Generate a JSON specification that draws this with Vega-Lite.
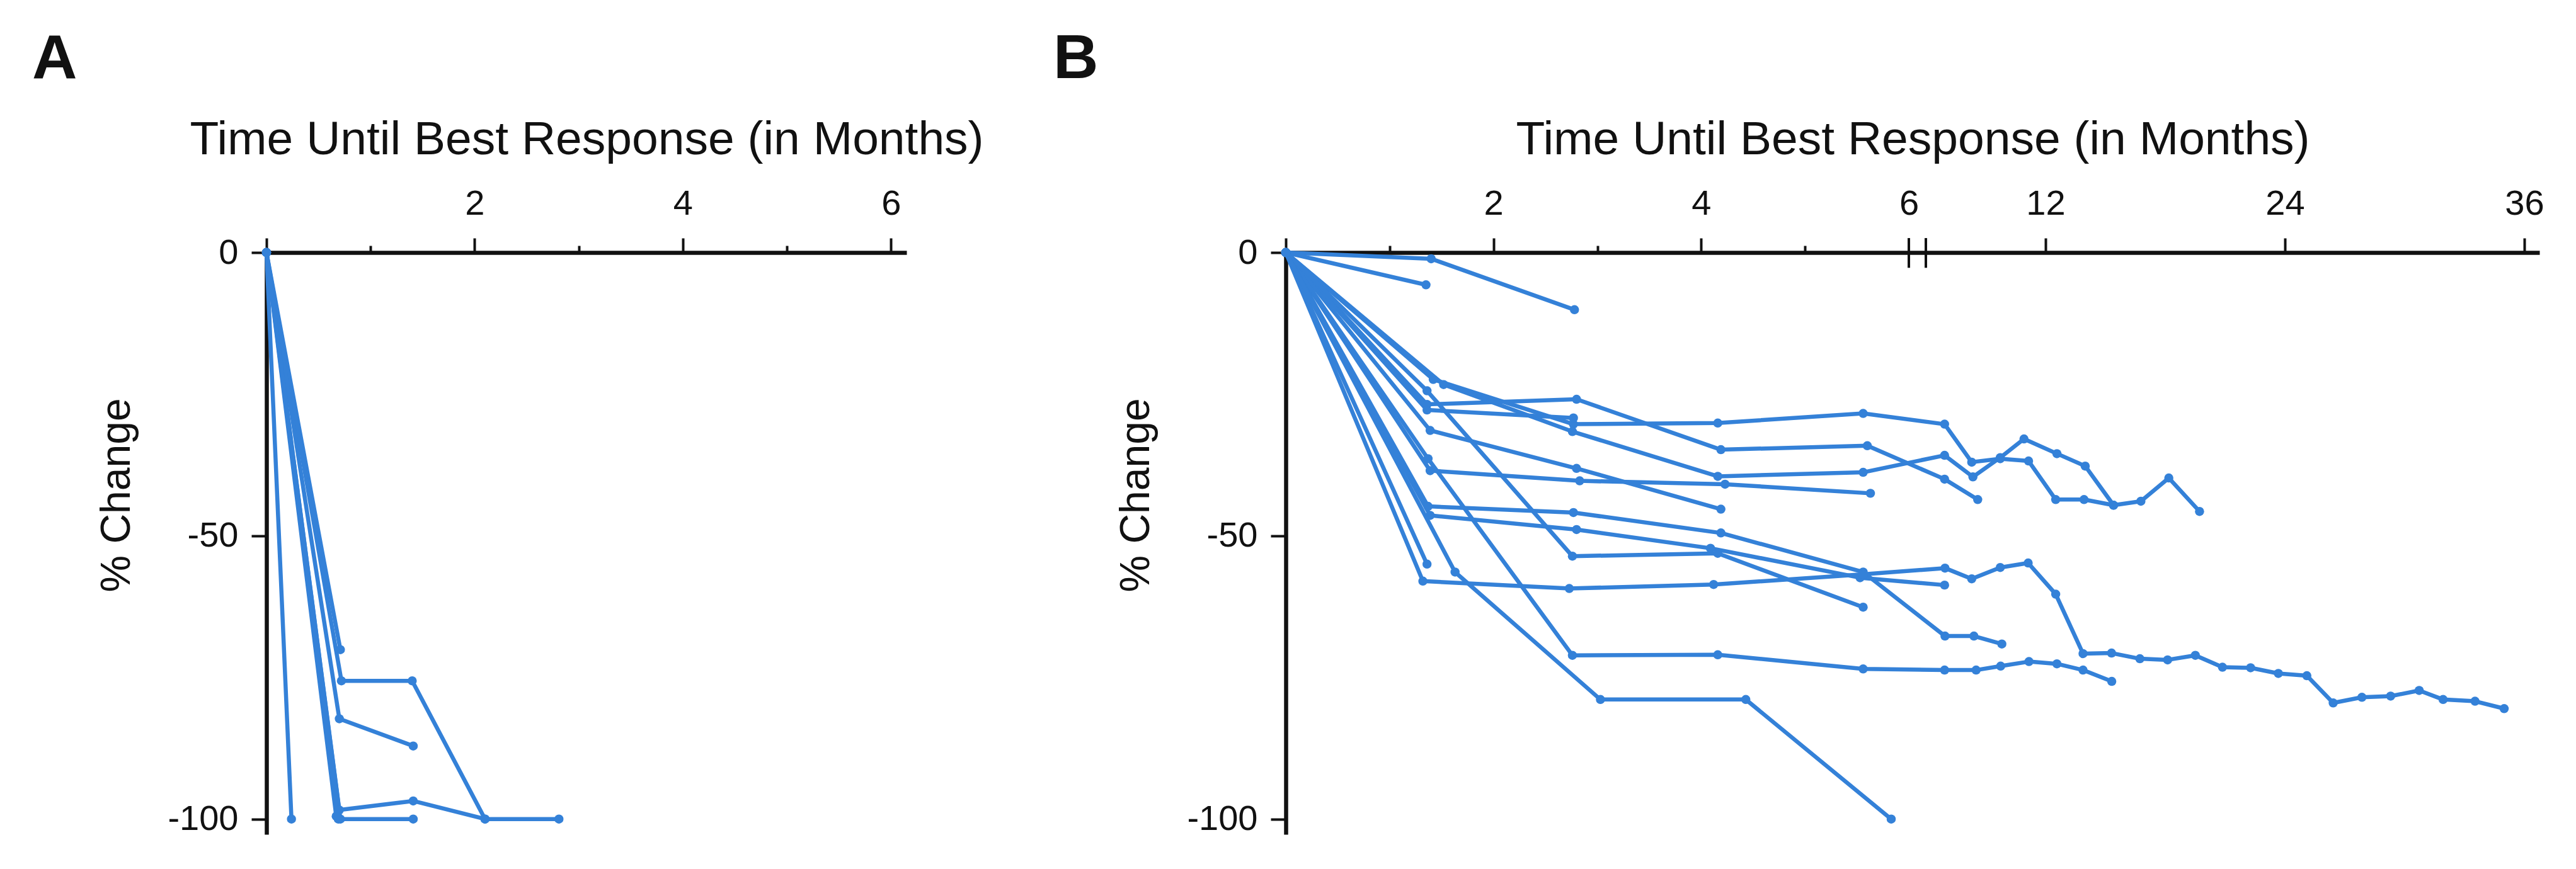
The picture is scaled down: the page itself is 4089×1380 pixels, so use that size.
{
  "$schema": "https://vega.github.io/schema/vega-lite/v6.json",
  "background": "white",
  "padding": {"left": 51, "top": 45, "right": 51, "bottom": 58},
  "autosize": {"type": "pad"},
  "spacing": 602,
  "bounds": "flush",
  "datasets": {
    "A": [
      {"id": "A1", "month": 0, "change": 0}, {"id": "A1", "month": 0.24, "change": -100},
      {"id": "A2", "month": 0, "change": 0}, {"id": "A2", "month": 0.71, "change": -70.1},
      {"id": "A3", "month": 0, "change": 0}, {"id": "A3", "month": 0.72, "change": -75.6}, {"id": "A3", "month": 1.4, "change": -75.6}, {"id": "A3", "month": 2.1, "change": -100}, {"id": "A3", "month": 2.81, "change": -100},
      {"id": "A4", "month": 0, "change": 0}, {"id": "A4", "month": 0.7, "change": -82.3}, {"id": "A4", "month": 1.41, "change": -87.1},
      {"id": "A5", "month": 0, "change": 0}, {"id": "A5", "month": 0.7, "change": -98.4}, {"id": "A5", "month": 1.41, "change": -96.8}, {"id": "A5", "month": 2.1, "change": -100},
      {"id": "A6", "month": 0, "change": 0}, {"id": "A6", "month": 0.71, "change": -100}, {"id": "A6", "month": 1.41, "change": -100},
      {"id": "A7", "month": 0, "change": 0}, {"id": "A7", "month": 0.67, "change": -99.5},
      {"id": "A8", "month": 0, "change": 0}, {"id": "A8", "month": 0.69, "change": -100}
    ],
    "B": [
      {"id": "B1", "month": 0, "change": 0}, {"id": "B1", "month": 1.4, "change": -1.1}, {"id": "B1", "month": 2.78, "change": -10.1},
      {"id": "B2", "month": 0, "change": 0}, {"id": "B2", "month": 1.35, "change": -5.7},
      {"id": "B3", "month": 0, "change": 0}, {"id": "B3", "month": 1.42, "change": -22.4}, {"id": "B3", "month": 2.77, "change": -30.3}, {"id": "B3", "month": 4.16, "change": -30.1}, {"id": "B3", "month": 5.56, "change": -28.4}, {"id": "B3", "month": 6.94, "change": -30.3}, {"id": "B3", "month": 8.3, "change": -37.0}, {"id": "B3", "month": 9.73, "change": -36.4}, {"id": "B3", "month": 11.15, "change": -36.8}, {"id": "B3", "month": 12.51, "change": -43.6}, {"id": "B3", "month": 13.93, "change": -43.6}, {"id": "B3", "month": 15.41, "change": -44.6},
      {"id": "B4", "month": 0, "change": 0}, {"id": "B4", "month": 1.52, "change": -23.3}, {"id": "B4", "month": 2.76, "change": -31.6}, {"id": "B4", "month": 4.16, "change": -39.5}, {"id": "B4", "month": 5.56, "change": -38.8}, {"id": "B4", "month": 6.94, "change": -35.8}, {"id": "B4", "month": 8.36, "change": -39.6}, {"id": "B4", "month": 9.73, "change": -36.2}, {"id": "B4", "month": 10.92, "change": -32.9}, {"id": "B4", "month": 12.57, "change": -35.5}, {"id": "B4", "month": 13.99, "change": -37.7}, {"id": "B4", "month": 15.41, "change": -44.6}, {"id": "B4", "month": 16.78, "change": -43.9}, {"id": "B4", "month": 18.18, "change": -39.8}, {"id": "B4", "month": 19.72, "change": -45.7},
      {"id": "B5", "month": 0, "change": 0}, {"id": "B5", "month": 1.36, "change": -26.8}, {"id": "B5", "month": 2.8, "change": -25.9}, {"id": "B5", "month": 4.19, "change": -34.8}, {"id": "B5", "month": 5.6, "change": -34.1}, {"id": "B5", "month": 6.94, "change": -40.0}, {"id": "B5", "month": 8.6, "change": -43.6},
      {"id": "B6", "month": 0, "change": 0}, {"id": "B6", "month": 1.36, "change": -27.8}, {"id": "B6", "month": 2.77, "change": -29.2},
      {"id": "B7", "month": 0, "change": 0}, {"id": "B7", "month": 1.39, "change": -31.4}, {"id": "B7", "month": 2.8, "change": -38.1}, {"id": "B7", "month": 4.19, "change": -45.3},
      {"id": "B8", "month": 0, "change": 0}, {"id": "B8", "month": 1.39, "change": -38.5}, {"id": "B8", "month": 2.83, "change": -40.3}, {"id": "B8", "month": 4.23, "change": -40.9}, {"id": "B8", "month": 5.63, "change": -42.5},
      {"id": "B9", "month": 0, "change": 0}, {"id": "B9", "month": 1.37, "change": -36.4}, {"id": "B9", "month": 2.76, "change": -71.1}, {"id": "B9", "month": 4.16, "change": -71.0}, {"id": "B9", "month": 5.56, "change": -73.5}, {"id": "B9", "month": 6.94, "change": -73.7}, {"id": "B9", "month": 8.52, "change": -73.7}, {"id": "B9", "month": 9.75, "change": -73.0}, {"id": "B9", "month": 11.17, "change": -72.2}, {"id": "B9", "month": 12.57, "change": -72.6}, {"id": "B9", "month": 13.88, "change": -73.7}, {"id": "B9", "month": 15.32, "change": -75.7},
      {"id": "B10", "month": 0, "change": 0}, {"id": "B10", "month": 1.36, "change": -24.4}, {"id": "B10", "month": 2.76, "change": -53.6}, {"id": "B10", "month": 4.16, "change": -53.1}, {"id": "B10", "month": 5.56, "change": -62.6},
      {"id": "B11", "month": 0, "change": 0}, {"id": "B11", "month": 1.37, "change": -44.8}, {"id": "B11", "month": 2.77, "change": -45.9}, {"id": "B11", "month": 4.19, "change": -49.5}, {"id": "B11", "month": 5.56, "change": -56.4}, {"id": "B11", "month": 6.96, "change": -67.7}, {"id": "B11", "month": 8.41, "change": -67.7}, {"id": "B11", "month": 9.81, "change": -69.1},
      {"id": "B12", "month": 0, "change": 0}, {"id": "B12", "month": 1.39, "change": -46.4}, {"id": "B12", "month": 2.8, "change": -48.9}, {"id": "B12", "month": 4.09, "change": -52.2}, {"id": "B12", "month": 5.53, "change": -57.4}, {"id": "B12", "month": 6.94, "change": -58.7},
      {"id": "B13", "month": 0, "change": 0}, {"id": "B13", "month": 1.32, "change": -58.0}, {"id": "B13", "month": 2.73, "change": -59.3}, {"id": "B13", "month": 4.12, "change": -58.6}, {"id": "B13", "month": 5.56, "change": -56.8}, {"id": "B13", "month": 6.96, "change": -55.7}, {"id": "B13", "month": 8.3, "change": -57.6}, {"id": "B13", "month": 9.73, "change": -55.6}, {"id": "B13", "month": 11.13, "change": -54.8}, {"id": "B13", "month": 12.51, "change": -60.3}, {"id": "B13", "month": 13.88, "change": -70.8}, {"id": "B13", "month": 15.31, "change": -70.7}, {"id": "B13", "month": 16.73, "change": -71.7}, {"id": "B13", "month": 18.12, "change": -71.9}, {"id": "B13", "month": 19.51, "change": -71.1}, {"id": "B13", "month": 20.87, "change": -73.2}, {"id": "B13", "month": 22.28, "change": -73.3}, {"id": "B13", "month": 23.67, "change": -74.3}, {"id": "B13", "month": 25.1, "change": -74.7}, {"id": "B13", "month": 26.42, "change": -79.5}, {"id": "B13", "month": 27.86, "change": -78.5}, {"id": "B13", "month": 29.3, "change": -78.3}, {"id": "B13", "month": 30.73, "change": -77.3}, {"id": "B13", "month": 31.93, "change": -78.9}, {"id": "B13", "month": 33.53, "change": -79.2}, {"id": "B13", "month": 34.99, "change": -80.5},
      {"id": "B14", "month": 0, "change": 0}, {"id": "B14", "month": 1.36, "change": -55.0},
      {"id": "B15", "month": 0, "change": 0}, {"id": "B15", "month": 1.63, "change": -56.4}, {"id": "B15", "month": 3.03, "change": -78.9}, {"id": "B15", "month": 4.43, "change": -78.9}, {"id": "B15", "month": 5.83, "change": -100}
    ],
    "breaks": [{"month": 6}, {"month": 6.001}]
  },
  "hconcat": [
    {
      "width": 1016,
      "height": 924,
      "title": {"text": "A", "dx": -372},
      "data": {"name": "A"},
      "encoding": {
        "x": {
          "field": "month", "type": "quantitative",
          "scale": {"domain": [0, 6.15], "nice": false, "zero": false},
          "axis": {
            "orient": "top",
            "values": [0, 1, 2, 3, 4, 5, 6],
            "labelExpr": "indexof([2, 4, 6], datum.value) >= 0 ? datum.label : ''",
            "tickSize": {"condition": {"test": "indexof([1, 3, 5], datum.value) >= 0", "value": 11}, "value": 23},
            "labelPadding": 26,
            "labelOverlap": false,
            "labelFlush": false,
            "title": "Time Until Best Response (in Months)",
            "titlePadding": 35
          }
        },
        "y": {
          "field": "change", "type": "quantitative",
          "scale": {"domain": [-102.7, 0], "nice": false, "zero": false},
          "axis": {
            "orient": "left",
            "values": [0, -50, -100],
            "labelExpr": "replace(datum.label, '\u2212', '-')",
            "tickSize": 24,
            "labelPadding": 21,
            "title": "% Change",
            "titleFontSize": 66,
            "titleY": 385,
            "titlePadding": 46
          }
        }
      },
      "layer": [
        {"mark": {"type": "line", "color": "#3481d8", "strokeWidth": 6.5, "strokeJoin": "round", "strokeCap": "round"}, "encoding": {"detail": {"field": "id", "type": "nominal"}}},
        {"mark": {"type": "point", "filled": true, "color": "#3481d8", "size": 210, "opacity": 1}}
      ]
    },
    {
      "width": 1990,
      "height": 924,
      "title": {"text": "B", "dx": -369},
      "layer": [
        {
          "data": {"name": "B"},
          "mark": {"type": "line", "color": "#3481d8", "strokeWidth": 6.5, "strokeJoin": "round", "strokeCap": "round"},
          "encoding": {
            "x": {
              "field": "month", "type": "quantitative",
              "scale": {"domain": [0, 6, 6.001, 36.76], "range": [0, 989, 1016, 1990], "nice": false, "zero": false},
              "axis": {
                "orient": "top",
                "values": [0, 1, 2, 3, 4, 5, 6, 6.001, 12, 24, 36],
                "labelExpr": "indexof([2, 4, 6, 12, 24, 36], datum.value) >= 0 ? datum.label : ''",
                "tickSize": {"condition": {"test": "indexof([1, 3, 5], datum.value) >= 0", "value": 11}, "value": 23},
                "tickOpacity": {"condition": {"test": "datum.value == 6 || datum.value == 6.001", "value": 0}, "value": 1},
                "labelPadding": 26,
                "labelOverlap": false,
                "labelFlush": false,
                "title": "Time Until Best Response (in Months)",
                "titlePadding": 35
              }
            },
            "y": {
              "field": "change", "type": "quantitative",
              "scale": {"domain": [-102.7, 0], "nice": false, "zero": false},
              "axis": {
                "orient": "left",
                "values": [0, -50, -100],
                "labelExpr": "replace(datum.label, '\u2212', '-')",
                "tickSize": 24,
                "labelPadding": 21,
                "title": "% Change",
                "titleFontSize": 66,
                "titleY": 385,
                "titlePadding": 46
              }
            },
            "detail": {"field": "id", "type": "nominal"}
          }
        },
        {
          "data": {"name": "B"},
          "mark": {"type": "point", "filled": true, "color": "#3481d8", "size": 210, "opacity": 1},
          "encoding": {
            "x": {"field": "month", "type": "quantitative"},
            "y": {"field": "change", "type": "quantitative"}
          }
        },
        {
          "data": {"name": "breaks"},
          "mark": {"type": "rule", "color": "#111", "strokeWidth": 4},
          "encoding": {
            "x": {"field": "month", "type": "quantitative"},
            "y": {"datum": 2.55},
            "y2": {"datum": -2.7}
          }
        }
      ]
    }
  ],
  "config": {
    "view": {"stroke": null},
    "font": "Liberation Sans",
    "axis": {
      "grid": false,
      "domainColor": "#111",
      "domainWidth": 6.5,
      "tickColor": "#111",
      "tickWidth": 4,
      "labelFont": "Liberation Sans",
      "labelFontSize": 56,
      "labelColor": "#111",
      "titleFont": "Liberation Sans",
      "titleFontSize": 75,
      "titleFontWeight": "normal",
      "titleColor": "#111"
    },
    "title": {
      "font": "Liberation Sans",
      "fontSize": 99,
      "fontWeight": "bold",
      "anchor": "start",
      "frame": "group",
      "offset": 39,
      "color": "#111"
    }
  }
}
